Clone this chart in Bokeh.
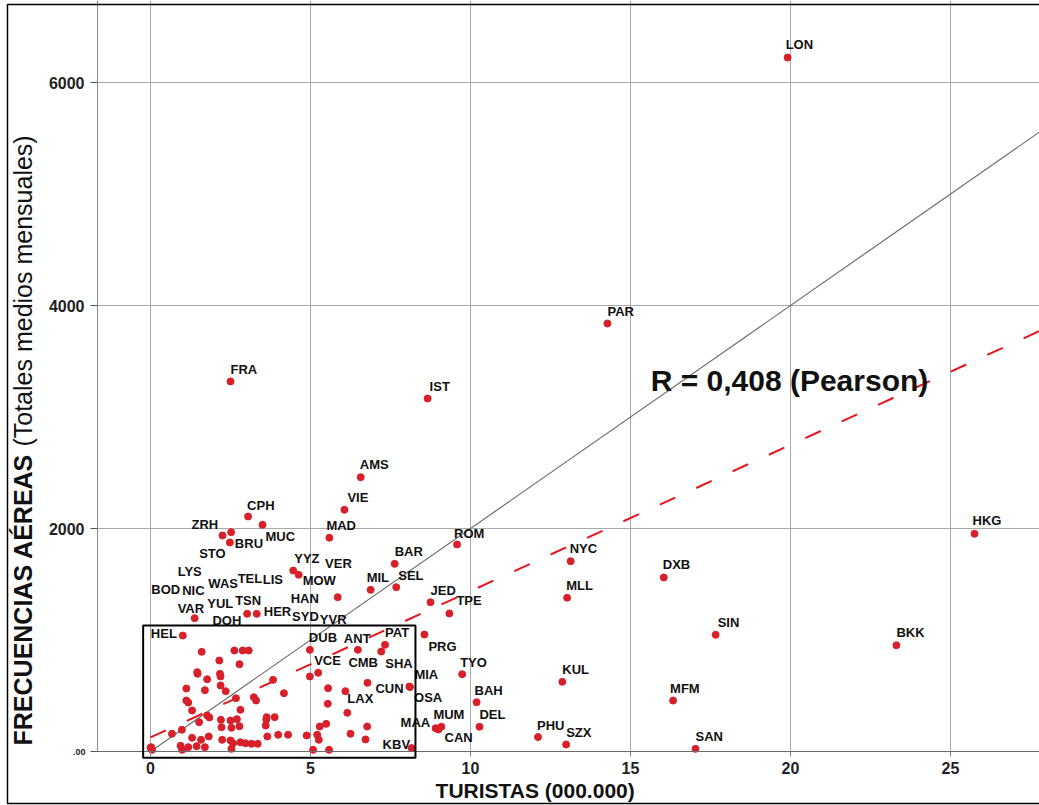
import math
from bokeh.plotting import figure
from bokeh.models import (ColumnDataSource, FixedTicker, CustomJSTickFormatter,
                          Label, Range1d, BoxAnnotation)
from bokeh.embed import file_html
from bokeh.resources import INLINE
from bokeh.core.properties import value

# ---------------- data ----------------
cities = ["LON", "PAR", "FRA", "IST", "AMS", "VIE", "MAD", "ROM", "BAR", "SEL", "MIL", "JED",
          "TPE", "NYC", "MLL", "DXB", "HKG", "SIN", "BKK", "KUL", "MFM", "PHU", "SZX", "SAN",
          "TYO", "BAH", "DEL", "MAA", "MUM", "CAN", "PRG", "ANT", "DUB", "VCE", "CMB", "LAX",
          "KBV", "HEL", "SHA", "PAT", "CUN", "MIA", "OSA", "CPH", "MUC", "ZRH", "STO", "BRU",
          "YYZ", "MOW", "HAN", "VAR", "TSN", "HER", "LYS", "WAS", "TEL", "LIS", "YUL", "DOH",
          "NIC", "BOD", "SYD", "YVR", "VER"]
turistas = [19.91, 14.28, 2.50, 8.66, 6.57, 6.06, 5.59, 9.58, 7.63, 7.68, 6.88, 8.75,
            9.34, 13.13, 13.02, 16.04, 25.75, 17.66, 23.31, 12.87, 16.33, 12.11, 12.99, 17.03,
            9.74, 10.19, 10.28, 8.91, 9.09, 9.00, 8.56, 6.48, 4.98, 5.24, 6.09, 6.15,
            8.16, 1.01, 7.21, 7.33, 6.78, 8.09, 8.11, 3.05, 3.50, 2.25, 2.52, 2.48,
            4.46, 4.63, 5.85, 1.38, 3.02, 3.32, 1.60, 2.62, 2.88, 3.07, 2.15, 2.78,
            1.46, 1.12, 3.83, 4.98, 5.55]
frecuencias = [6224, 3839, 3319, 3166, 2460, 2168, 1917, 1857, 1683, 1474, 1450, 1339,
               1238, 1707, 1379, 1561, 1953, 1047, 953, 625, 457, 130, 63, 24,
               693, 442, 222, 209, 222, 197, 1049, 912, 912, 706, 541, 347,
               31, 1040, 897, 957, 616, 583, 578, 2108, 2033, 1937, 1967, 1875,
               1623, 1585, 1384, 1196, 1235, 1235, 894, 906, 906, 906, 816, 783,
               711, 565, 643, 673, 568]

# unlabelled destinations
otros_turistas = [1.47, 2.17, 2.19, 1.77, 2.19, 1.70, 2.35, 2.67, 1.12, 1.18, 1.30, 3.23,
                  3.30, 2.81, 1.77, 1.84, 1.52, 2.20, 2.50, 2.70, 2.22, 2.53, 2.78, 0.67,
                  0.98, 3.63, 3.62, 3.88, 3.60, 3.99, 3.65, 1.30, 1.82, 1.58, 2.24, 2.50,
                  2.58, 2.81, 0.94, 1.44, 1.70, 1.18, 0.99, 2.53, 2.97, 3.16, 3.35, 0.00,
                  0.05, 0.02, 4.17, 5.54, 5.49, 5.29, 6.77, 4.30, 4.88, 5.21, 5.26, 6.25,
                  6.72, 5.08, 5.58]
otros_frecuencias = [697, 697, 673, 648, 592, 550, 541, 478, 457, 439, 368, 487,
                     457, 374, 323, 305, 263, 284, 278, 290, 218, 213, 227, 159,
                     195, 308, 287, 308, 233, 150, 135, 123, 135, 105, 105, 99,
                     74, 83, 51, 48, 39, 39, 15, 24, 74, 69, 69, 33,
                     15, 39, 523, 428, 248, 224, 224, 150, 144, 150, 105, 159,
                     108, 15, 15]

# reference line and fitted line (end points)
ref_x = [0.0, 28.0]
ref_y = [0.0, 5600.0]
fit_x = [0.0, 28.0]
fit_y = [126.0, 3800.0]

# highlighted detail zone [left, right, bottom, top]
zona_detalle = [-0.23, 8.28, -56.0, 1130.0]

x_ticks = [0, 5, 10, 15, 20, 25]
y_ticks = [0, 2000, 4000, 6000]

# ---------------- label layout (pixel offsets from each point) ----------------
label_dx = [-2, 0, 0, 2, -1, 3, -3, -3, 0, 2, -4, 0,
            7, -1, -1, -1, -2, 2, 0, 0, -3, -1, 0, 0,
            -2, -2, 0, -35, -8, 6, 4, -14, -1, -4, 3, 0,
            -29, -32, 4, 0, 8, 5, 4, -1, 3, -31, -32, 5,
            1, 4, -47, -17, -12, 7, -24, -26, -5, 14, -12, -27,
            -15, -35, 19, 10, -3]
label_dy = [-13, -12, -12, -12, -13, -12, -12, -11, -12, -12, -12, -12,
            -13, -13, -12, -13, -13, -12, -13, -12, -12, -12, -12, -12,
            -12, -12, -12, -6, -12, 8, 12, -11, -12, -12, -29, -14,
            -4, -2, 12, -12, 6, -12, 10, -11, 12, -11, 21, 1,
            -12, 6, 1, -10, -13, -2, -80, -67, -72, -71, -57, -44,
            -82, -99, -63, -57, -125]

FONT = "Liberation Sans"

X0, X1 = -4.6875, 27.781     # visible range (frame = whole canvas)
Y0, Y1 = -484.3, 6735.7
AX_X = -1.656                # where the y axis sits

p = figure(width=1039, height=805, output_backend="svg", toolbar_location=None,
           x_range=Range1d(X0, X1), y_range=Range1d(Y0, Y1),
           min_border=0, min_border_left=0, min_border_right=0,
           min_border_top=0, min_border_bottom=0)
p.outline_line_color = None
p.background_fill_color = "white"
p.border_fill_color = "white"

# axes drawn at fixed data locations
p.xaxis.fixed_location = 0
p.yaxis.fixed_location = AX_X
p.xaxis.bounds = (AX_X, X1)
p.yaxis.bounds = (0, Y1)
p.xaxis.ticker = FixedTicker(ticks=x_ticks)
p.yaxis.ticker = FixedTicker(ticks=y_ticks)
p.yaxis.formatter = CustomJSTickFormatter(code="return tick == 0 ? '' : tick.toFixed(0);")
for ax in (p.xaxis[0], p.yaxis[0]):
    ax.major_label_text_font = FONT
    ax.major_label_text_font_style = "bold"
    ax.major_label_text_font_size = "16px"
    ax.major_label_text_color = "#222222"
    ax.minor_tick_line_color = None
p.xaxis.axis_line_color = "#6a6a6a"
p.xaxis.major_tick_in = 0
p.xaxis.major_tick_out = 5
p.xaxis.major_tick_line_color = "#8a8a8a"
p.xaxis.major_label_standoff = 5
p.yaxis.axis_line_color = "#8c8c8c"
p.yaxis.major_tick_in = 0
p.yaxis.major_tick_out = 7
p.yaxis.major_tick_line_color = "#555555"
p.yaxis.major_label_standoff = 6

p.xgrid.grid_line_color = "#a8a8a8"
p.ygrid.grid_line_color = "#a8a8a8"
# keep grid lines inside the axes area
p.add_layout(BoxAnnotation(right=AX_X, fill_color="white", fill_alpha=1,
                           line_alpha=0, level="underlay"))
p.add_layout(BoxAnnotation(top=0, left=AX_X, fill_color="white", fill_alpha=1,
                           line_alpha=0, level="underlay"))

# lines
p.line(ref_x, ref_y, line_color="#6e6e6e", line_width=1.2)
p.line(fit_x, fit_y, line_color="#e8141c", line_width=2, line_dash="17 23")

# points
p.scatter(otros_turistas, otros_frecuencias, size=7, fill_color="#d8202b", line_color="#d8202b")
src = ColumnDataSource(dict(x=turistas, y=frecuencias, name=cities, dx=label_dx, dy=label_dy))
p.scatter("x", "y", source=src, size=7, fill_color="#d8202b", line_color="#d8202b")
p.text(x="x", y="y", text="name", x_offset="dx", y_offset="dy", source=src,
       text_font=value(FONT), text_font_size=value("13px"), text_font_style="bold",
       text_align="left", text_baseline="middle", text_color="#111111")

# detail box
p.add_layout(BoxAnnotation(left=zona_detalle[0], right=zona_detalle[1],
                           bottom=zona_detalle[2], top=zona_detalle[3],
                           fill_alpha=0, line_color="black", line_alpha=1, line_width=2))

# outer border of the chart
p.add_layout(BoxAnnotation(left=-4.469, right=X1 + 1, bottom=-466, top=6700,
                           fill_alpha=0, line_color="black", line_alpha=1, line_width=1.5))

# texts
p.add_layout(Label(x=15.63, y=3327, text="R = 0,408 (Pearson)", text_font=FONT,
                   text_font_style="bold", text_font_size="30px", text_align="left",
                   text_baseline="middle", text_color="#111111"))
p.add_layout(Label(x=-2.03, y=0, text=".00", text_font=FONT, text_font_style="bold",
                   text_font_size="9px", text_align="right", text_baseline="middle",
                   text_color="#222222"))
p.add_layout(Label(x=12.02, y=-350, text="TURISTAS (000.000)", text_font=FONT,
                   text_font_style="bold", text_font_size="21px", text_align="center",
                   text_baseline="middle", text_color="#111111"))
p.add_layout(Label(x=-4.0, y=54, text="FRECUENCIAS AÉREAS", text_font=FONT,
                   text_font_style="bold", text_font_size="25px", text_align="left",
                   text_baseline="middle", angle=math.pi / 2, text_color="#111111"))
p.add_layout(Label(x=-4.0, y=2735, text="(Totales medios mensuales)", text_font=FONT,
                   text_font_style="normal", text_font_size="25px", text_align="left",
                   text_baseline="middle", angle=math.pi / 2, text_color="#111111"))

open("out.html", "w").write(file_html(p, INLINE))
